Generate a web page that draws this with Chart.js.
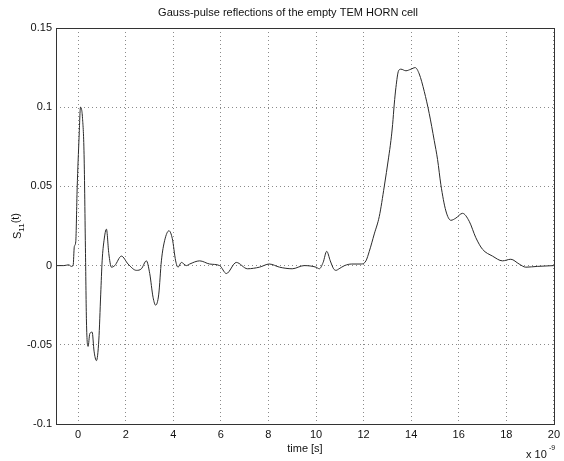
<!DOCTYPE html>
<html>
<head>
<meta charset="utf-8">
<script src="https://cdn.jsdelivr.net/npm/chart.js@4/dist/chart.umd.min.js"></script>
<style>
  html, body { margin: 0; padding: 0; background: #fff; }
  #wrap { width: 564px; height: 461px; position: relative; }
</style>
</head>
<body>
<div id="wrap"><canvas id="c" width="564" height="461"></canvas></div>
<script>
// ---- data (time in units of 1e-9 s) ----
const timeNs = [
  -0.93, -0.6, -0.4, -0.28, -0.21, -0.16, -0.1, -0.04, 0.04, 0.10, 0.14, 0.18, 0.25, 0.31, 0.35, 0.42, 0.49,
  0.59, 0.67, 0.77, 0.87, 0.95, 1.01, 1.09, 1.19, 1.29, 1.40, 1.54, 1.82, 2.10, 2.45, 2.66,
  2.87, 3.01, 3.15, 3.26, 3.39, 3.50, 3.64, 3.82, 3.96, 4.10, 4.20, 4.34, 4.55, 4.69, 5.11,
  5.53, 5.95, 6.23, 6.65, 7.12, 7.62, 8.04, 8.47, 9.0, 9.5, 10.0, 10.14, 10.30, 10.45, 10.6,
  10.74, 10.84, 10.97, 11.2, 11.5, 11.9, 12.1, 12.24, 12.45, 12.66, 12.87, 13.05, 13.15, 13.22,
  13.29, 13.36, 13.47, 13.57, 13.78, 13.99, 14.17, 14.34, 14.55, 14.76, 14.97, 15.11, 15.25,
  15.46, 15.67, 15.88, 16.16, 16.44, 16.72, 17.0, 17.42, 17.84, 18.19, 18.54, 18.82, 19.3, 20.0
];
const s11 = [
  0, 0, 0.0005, -0.0005, 0, 0.012, 0.015, 0.049, 0.081, 0.100, 0.099, 0.094, 0.070, 0.0076, -0.035, -0.051, -0.043,
  -0.042, -0.054, -0.060, -0.047, -0.018, 0.003, 0.016, 0.023, 0.0076, -0.001, 0, 0.006, 0.001, -0.003, -0.002,
  0.003, -0.005, -0.020, -0.025, -0.018, 0.003, 0.016, 0.022, 0.017, 0.003, -0.001, 0.002, 0, 0.001, 0.003,
  0.001, 0, -0.005, 0.002, -0.002, -0.001, 0.001, -0.001, -0.002, 0, -0.001, -0.002, 0.002, 0.009, 0.003,
  -0.002, -0.003, -0.002, 0, 0.001, 0.001, 0.003, 0.009, 0.020, 0.031, 0.050, 0.068, 0.079, 0.089,
  0.102, 0.1125, 0.123, 0.124, 0.123, 0.124, 0.125, 0.121, 0.110, 0.096, 0.079, 0.067, 0.051,
  0.0345, 0.0286, 0.030, 0.033, 0.028, 0.0176, 0.0103, 0.006, 0.003, 0.004, 0.001, -0.001, -0.0005, 0
];
const xTickValues = [0, 2, 4, 6, 8, 10, 12, 14, 16, 18, 20];
const yTickValues = [-0.1, -0.05, 0, 0.05, 0.1, 0.15];
const yTickLabels = ['-0.1', '-0.05', '0', '0.05', '0.1', '0.15'];
const titleText = 'Gauss-pulse reflections of the empty TEM HORN cell';
const xLabelText = 'time [s]';
const yLabelMain = 'S';
const yLabelSub = '11';
const yLabelTail = '(t)';
const expBase = 'x 10';
const expPower = '-9';

const FONT = '"Liberation Sans", Arial, sans-serif';

const decor = {
  id: 'decor',
  afterDraw(chart) {
    const ctx = chart.ctx;
    const a = chart.chartArea;
    ctx.save();
    // axes box
    ctx.strokeStyle = '#333';
    ctx.lineWidth = 1;
    ctx.setLineDash([]);
    ctx.strokeRect(Math.round(a.left) + 0.5, Math.round(a.top) + 0.5,
                   Math.round(a.right - a.left), Math.round(a.bottom - a.top));
    ctx.fillStyle = '#111';
    // title
    ctx.font = '11px ' + FONT;
    ctx.textAlign = 'center';
    ctx.textBaseline = 'middle';
    ctx.fillText(titleText, 288, 13);
    // x label
    ctx.fillText(xLabelText, (a.left + a.right) / 2, 449);
    // exponent
    ctx.textAlign = 'left';
    ctx.fillText(expBase, 526, 455);
    ctx.font = '7px ' + FONT;
    ctx.fillText(expPower, 549, 448);
    // y label rotated with subscript
    ctx.translate(18, (a.top + a.bottom) / 2);
    ctx.rotate(-Math.PI / 2);
    ctx.font = '11px ' + FONT;
    const w1 = ctx.measureText(yLabelMain).width;
    ctx.font = '8px ' + FONT;
    const w2 = ctx.measureText(yLabelSub).width;
    ctx.font = '11px ' + FONT;
    const w3 = ctx.measureText(yLabelTail).width;
    let x0 = -(w1 + w2 + w3) / 2;
    ctx.textAlign = 'left';
    ctx.font = '11px ' + FONT;
    ctx.fillText(yLabelMain, x0, 0);
    ctx.font = '8px ' + FONT;
    ctx.fillText(yLabelSub, x0 + w1, 4);
    ctx.font = '11px ' + FONT;
    ctx.fillText(yLabelTail, x0 + w1 + w2, -2);
    ctx.restore();
  }
};

new Chart(document.getElementById('c'), {
  type: 'line',
  data: {
    datasets: [{
      data: timeNs.map((t, i) => ({ x: t, y: s11[i] })),
      borderColor: '#2a2a2a',
      borderWidth: 1,
      pointRadius: 0,
      fill: false,
      tension: 0.35,
      cubicInterpolationMode: 'monotone'
    }]
  },
  options: {
    responsive: false,
    animation: false,
    devicePixelRatio: 1,
    layout: { padding: { top: 28, right: 9, left: 0, bottom: 0 } },
    plugins: { legend: { display: false }, tooltip: { enabled: false }, title: { display: false } },
    scales: {
      x: {
        type: 'linear',
        min: -0.93,
        max: 20,
        afterBuildTicks: (axis) => { axis.ticks = xTickValues.map(v => ({ value: v })); },
        afterFit: (scale) => { scale.height = 37; },
        ticks: {
          autoSkip: false, maxRotation: 0, padding: 4,
          color: '#111', font: { family: FONT, size: 11 },
          callback: (v) => String(v)
        },
        grid: { color: '#8a8a8a', lineWidth: 1, drawTicks: false, tickBorderDash: [1, 3] },
        border: { display: false, dash: [1, 3] }
      },
      y: {
        type: 'linear',
        min: -0.1,
        max: 0.15,
        afterBuildTicks: (axis) => { axis.ticks = yTickValues.map(v => ({ value: v })); },
        afterFit: (scale) => { scale.width = 56; },
        ticks: {
          autoSkip: false, padding: 4,
          color: '#111', font: { family: FONT, size: 11 },
          callback: (v) => { const i = yTickValues.findIndex(t => Math.abs(t - v) < 1e-9); return i >= 0 ? yTickLabels[i] : ''; }
        },
        grid: { color: '#8a8a8a', lineWidth: 1, drawTicks: false },
        border: { display: false, dash: [1, 3] }
      }
    }
  },
  plugins: [decor, {
    id: 'dashGrid',
    beforeInit(chart) {
      chart.options.scales.x.border.dash = [1, 3];
      chart.options.scales.y.border.dash = [1, 3];
    }
  }]
});
</script>
</body>
</html>
